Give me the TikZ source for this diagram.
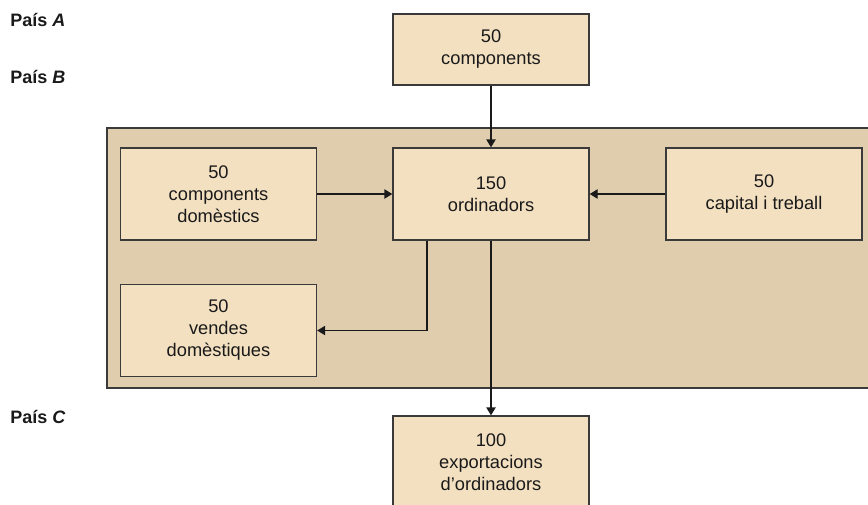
\documentclass[tikz,border=0pt]{standalone}
\usepackage{fontspec}
\setmainfont{Liberation Sans}
\usetikzlibrary{arrows.meta,calc}
\definecolor{Ink}{HTML}{1A1A1A}
\definecolor{Frame}{HTML}{3A3A3A}
\definecolor{Sand}{HTML}{F3E0C1}
\definecolor{Panel}{HTML}{E0CDAE}
\tikzset{box/.style={draw=Frame,fill=Sand,line width=1pt,align=center,
    inner sep=4pt,text=Ink,font=\fontsize{13.7}{16.5}\selectfont},
  flowbox/.style={box,minimum width=196*0.75pt,minimum height=92*0.75pt},
  country/.style={anchor=west,inner sep=0pt,text=Ink,
    font=\fontsize{13.5}{16.5}\selectfont\bfseries},
  edge/.style={-{Triangle[length=6pt,width=7pt]},line width=1pt,draw=Ink}}
\begin{document}
\begin{tikzpicture}[x=0.75pt,y=-0.75pt]
  \useasboundingbox (0,0) rectangle (868,504);
  % country B panel
  \fill[Panel,draw=Frame,line width=1.1pt] (107,128) rectangle (880,388);

  \node[country] (pa) at (10,20) {País \textit{A}};
  \node[country] (pb) at (10,77) {País \textit{B}};
  \node[country] (pc) at (10,417) {País \textit{C}};

  \node[flowbox,minimum height=71*0.75pt] (comp) at (491,49.5) {50\\components};
  \node[flowbox] (ord) at (491,194) {150\\ordinadors};
  \node[flowbox] (dom) at (218.5,194) {50\\components\\domèstics};
  \node[flowbox] (cap) at (764,194) {50\\capital i treball};
  \node[flowbox] (vend) at (218.5,330.5) {50\\vendes\\domèstiques};
  \node[flowbox] (exp) at (491,462) {100\\exportacions\\d’ordinadors};

  \draw[edge] (comp) -- (ord);
  \draw[edge] (dom) -- (ord);
  \draw[edge] (cap) -- (ord);
  \draw[edge] ($(ord.south)+(-64,0)$) |- (vend.east);
  \draw[edge] (ord) -- (exp);
\end{tikzpicture}
\end{document}
